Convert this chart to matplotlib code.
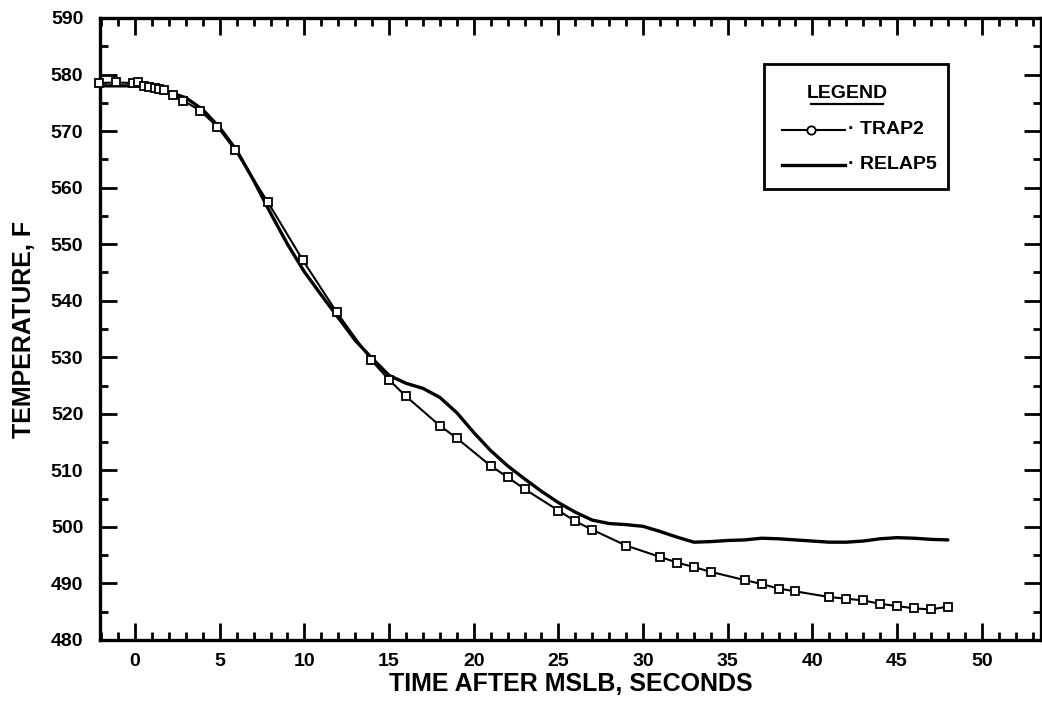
import matplotlib
matplotlib.use("Agg")
import matplotlib.pyplot as plt
from matplotlib.ticker import MultipleLocator
from matplotlib.patches import Rectangle
from matplotlib.lines import Line2D

# ---- data ----
trap2_time = [-2.1, -1.1, -0.1, 0.2, 0.5, 0.8, 1.2, 1.4, 1.7, 2.25, 2.85, 3.85, 4.85,
              5.9, 7.85, 9.9, 11.9, 13.95, 15.0, 16.0, 18.0, 19.0, 21.0, 22.0, 23.0,
              25.0, 26.0, 27.0, 29.0, 31.0, 32.0, 33.0, 34.0, 36.0, 37.0, 38.0, 39.0,
              41.0, 42.0, 43.0, 44.0, 45.0, 46.0, 47.0, 48.0]
trap2_temp = [578.5, 578.6, 578.5, 578.6, 578.0, 577.85, 577.7, 577.5, 577.3, 576.3,
              575.4, 573.6, 570.8, 566.7, 557.4, 547.2, 538.0, 529.5, 526.0, 523.1,
              517.9, 515.7, 510.8, 508.8, 506.7, 502.9, 501.0, 499.5, 496.7, 494.7,
              493.7, 492.9, 492.05, 490.6, 489.9, 489.1, 488.6, 487.6, 487.3, 487.0,
              486.4, 486.0, 485.6, 485.4, 485.9]

relap5_time = [-2, -1, 0, 1, 1.5, 2, 3, 4, 5, 6, 7, 8, 9, 10, 11, 12, 13, 14, 15, 16,
               17, 18, 19, 20, 21, 22, 23, 24, 25, 26, 27, 28, 29, 30, 31, 32, 33, 34,
               35, 36, 37, 38, 39, 40, 41, 42, 43, 44, 45, 46, 47, 48]
relap5_temp = [578.0, 578.0, 578.0, 577.6, 577.3, 576.9, 575.9, 573.8, 570.6, 566.6,
               561.3, 555.5, 550.0, 545.1, 541.0, 537.0, 533.0, 529.8, 526.8, 525.4,
               524.5, 522.9, 520.2, 516.7, 513.5, 510.8, 508.5, 506.3, 504.3, 502.6,
               501.2, 500.6, 500.4, 500.1, 499.2, 498.2, 497.3, 497.4, 497.6, 497.7,
               498.0, 497.9, 497.7, 497.5, 497.3, 497.3, 497.5, 497.9, 498.1, 498.0,
               497.8, 497.7]

x_major = [0, 5, 10, 15, 20, 25, 30, 35, 40, 45, 50]
y_major = [480, 490, 500, 510, 520, 530, 540, 550, 560, 570, 580, 590]

FONT = ['Liberation Sans', 'DejaVu Sans']
plt.rcParams['font.family'] = FONT
plt.rcParams['font.weight'] = 'bold'

fig = plt.figure(figsize=(10.42, 7.11), dpi=100)
ax = fig.add_axes([100/1042, 1 - 640/711, 941/1042, 622/711])

ax.plot(relap5_time, relap5_temp, color='black', lw=2.4, solid_capstyle='round',
        solid_joinstyle='round')
ax.plot(trap2_time, trap2_temp, color='black', lw=1.5, marker='s', markersize=5.5,
        markerfacecolor='white', markeredgecolor='black', markeredgewidth=1.3,
        clip_on=False, zorder=3)

ax.set_xlim(-2.07, 53.5)
ax.set_ylim(480, 590)
ax.set_xticks(x_major)
ax.set_yticks(y_major)
ax.xaxis.set_minor_locator(MultipleLocator(1))
ax.yaxis.set_minor_locator(MultipleLocator(5))
ax.tick_params(which='both', direction='in', top=True, right=True, width=2,
               labelsize=14, colors='black')
ax.tick_params(which='major', length=12)
ax.tick_params(which='minor', length=6)
ax.tick_params(axis='y', pad=12)
ax.tick_params(axis='x', pad=9)
for lab in ax.get_xticklabels() + ax.get_yticklabels():
    lab.set_fontweight('bold')
for s in ax.spines.values():
    s.set_linewidth(2.4)

ax.set_xlabel('TIME AFTER MSLB, SECONDS', fontsize=18, fontweight='bold', labelpad=2)
ax.set_ylabel('TEMPERATURE, F', fontsize=18, fontweight='bold', labelpad=11)

# legend box drawn manually
ax.add_patch(Rectangle((0.7056, 0.725), 0.1954, 0.201, transform=ax.transAxes,
                       fill=False, lw=2, ec='black', zorder=5))
ax.text(0.794, 0.879, 'LEGEND', transform=ax.transAxes, ha='center', va='center',
        fontsize=14, fontweight='bold')
ax.add_line(Line2D([0.756, 0.832], [0.862, 0.862], transform=ax.transAxes,
                   color='black', lw=1.6))
ax.add_line(Line2D([0.725, 0.792], [0.820, 0.820], transform=ax.transAxes,
                   color='black', lw=1.5))
ax.add_line(Line2D([0.7556], [0.820], transform=ax.transAxes, marker='o',
                   markersize=6, markerfacecolor='white', markeredgecolor='black',
                   markeredgewidth=1.3, linestyle='none'))
ax.text(0.795, 0.820, '\u00b7 TRAP2', transform=ax.transAxes, ha='left', va='center',
        fontsize=14, fontweight='bold')
ax.add_line(Line2D([0.725, 0.792], [0.764, 0.764], transform=ax.transAxes,
                   color='black', lw=2.4))
ax.text(0.795, 0.764, '\u00b7 RELAP5', transform=ax.transAxes, ha='left', va='center',
        fontsize=14, fontweight='bold')

fig.savefig('out.png', dpi=100)
